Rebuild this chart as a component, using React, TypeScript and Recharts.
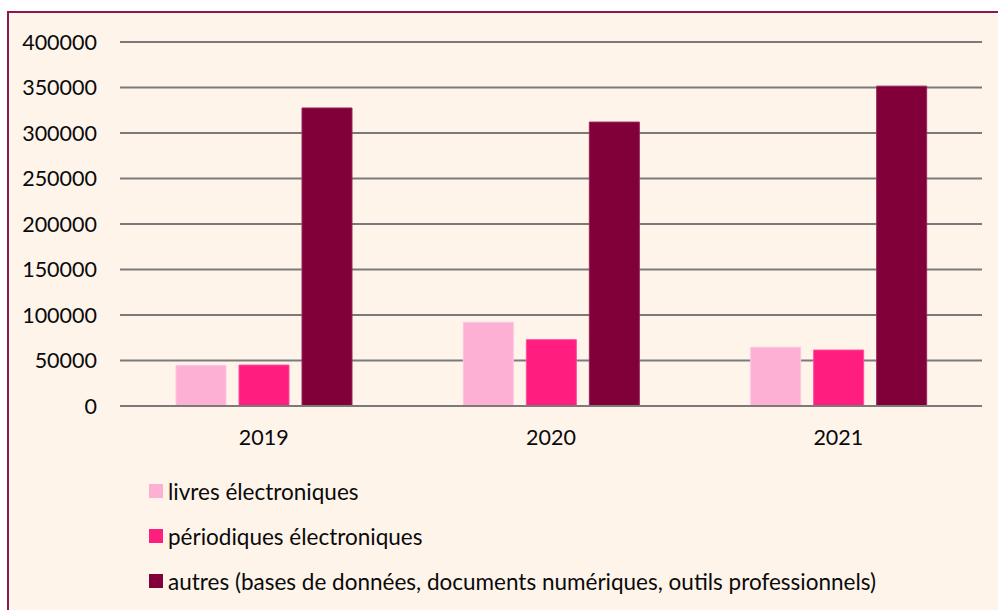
import { Bar, BarChart, CartesianGrid, XAxis, YAxis } from "recharts";

const years = ["2019", "2020", "2021"];
const livres = [44700, 92000, 64500];
const periodiques = [45000, 72900, 61500];
const autres = [327500, 312000, 351500];
const yTicks = [0, 50000, 100000, 150000, 200000, 250000, 300000, 350000, 400000];

const seriesNames = [
  "livres électroniques",
  "périodiques électroniques",
  "autres (bases de données, documents numériques, outils professionnels)",
];
const seriesColors = ["#FEAFD4", "#FF1E80", "#82003A"];
const seriesStrokes = ["#FFC6E0", "#FF4E9A", "#93285A"];

const data = years.map((y, i) => ({
  year: y,
  livres: livres[i],
  periodiques: periodiques[i],
  autres: autres[i],
}));
const keys = ["livres", "periodiques", "autres"];

const font = "Lato, 'Open Sans', sans-serif";

const App = () => {
  return (
    <div style={{ position: "relative", width: 998, height: 610, background: "#fff", overflow: "hidden", fontFamily: font }}>
      <style>{`body{margin:0}`}</style>
      <div
        style={{
          position: "absolute",
          left: 7,
          top: 11,
          width: 1010,
          height: 620,
          border: "2px solid #8C1A4E",
          background: "#FEF4EA",
        }}
      />
      <div style={{ position: "absolute", left: 0, top: 0 }}>
        <BarChart
          width={998}
          height={610}
          data={data}
          barSize={50}
          barGap={13}
          margin={{ top: 42, right: 16, left: 0, bottom: 174 }}
        >
          <CartesianGrid vertical={false} stroke="#7a7a7a" strokeWidth={1.8} />
          <XAxis
            dataKey="year"
            height={30}
            tickLine={false}
            tickSize={0}
            tickMargin={24}
            axisLine={{ stroke: "#7a7a7a", strokeWidth: 1.8 }}
            tick={{ fill: "#0a0a0a", fontSize: 21.5, fontFamily: font }}
          />
          <YAxis
            width={120}
            domain={[0, 400000]}
            ticks={yTicks}
            interval={0}
            axisLine={false}
            tickLine={false}
            tickSize={0}
            tickMargin={23}
            tick={{ fill: "#0a0a0a", fontSize: 21.5, fontFamily: font }}
          />
          {keys.map((k, i) => (
            <Bar
              key={k}
              dataKey={k}
              name={seriesNames[i]}
              fill={seriesColors[i]}
              stroke={seriesStrokes[i]}
              strokeWidth={1}
              isAnimationActive={false}
            />
          ))}
        </BarChart>
      </div>
      <div style={{ position: "absolute", left: 149, top: 468.5 }}>
        {seriesNames.map((n, i) => (
          <div key={n} style={{ display: "flex", alignItems: "center", height: 45, color: "#0a0a0a", fontSize: 22.5 }}>
            <span style={{ display: "inline-block", width: 14, height: 14, background: seriesColors[i], marginRight: 5, flexShrink: 0 }} />
            <span style={{ whiteSpace: "nowrap" }}>{n}</span>
          </div>
        ))}
      </div>
    </div>
  );
};

export default App;
